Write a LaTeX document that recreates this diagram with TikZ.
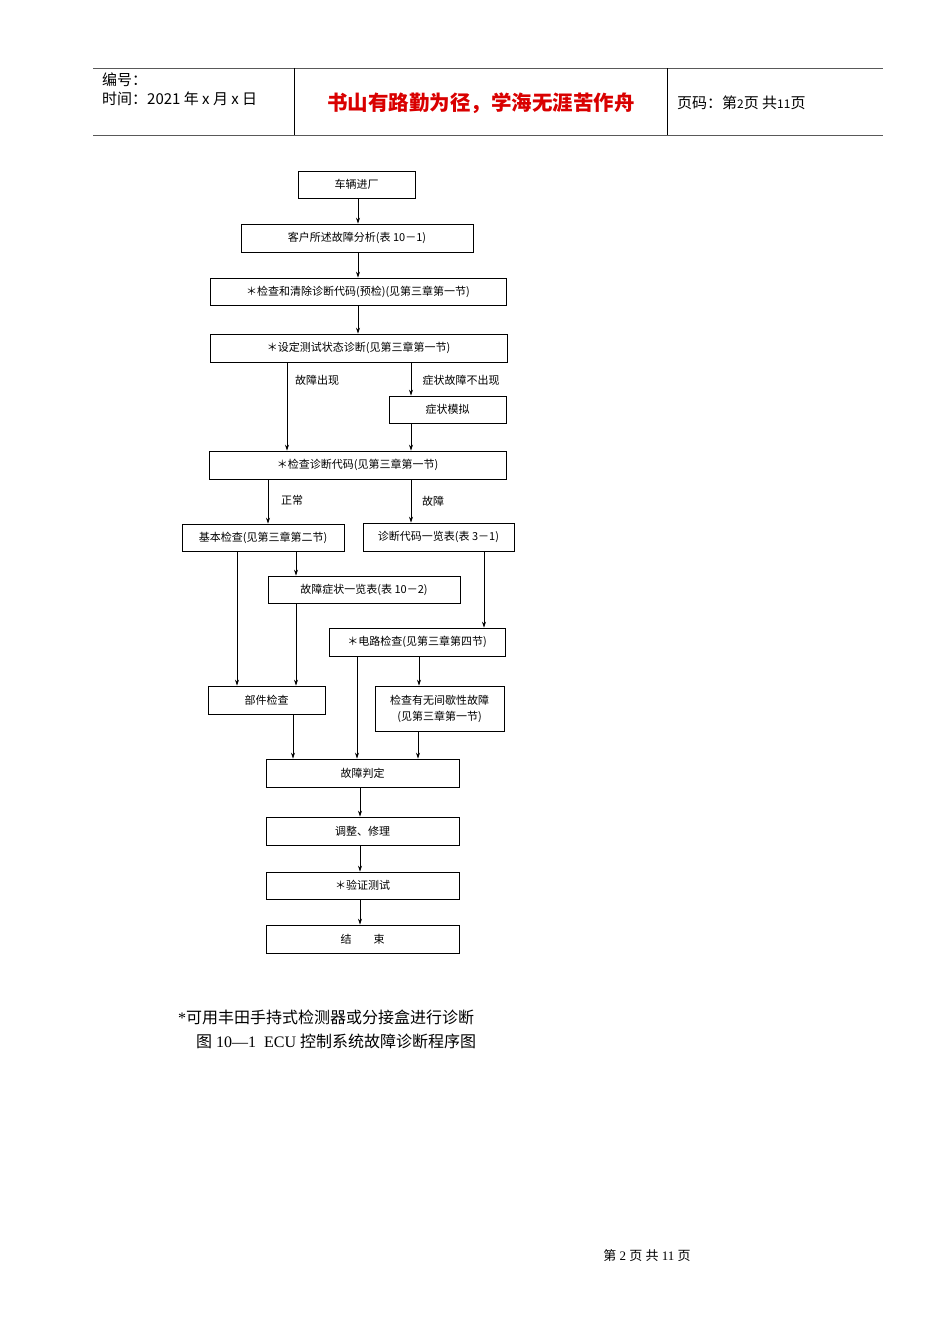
\documentclass[tikz,border=0pt]{standalone}
\usepackage{fontspec}
\setmainfont{Liberation Serif}
\newfontfamily\cjk{Noto Sans CJK SC}
\usetikzlibrary{arrows.meta}
\begin{document}
\begin{tikzpicture}[x=1pt,y=-1pt,
  box/.style={draw,line width=0.8pt,inner sep=0pt,font=\cjk\fontsize{11}{16}\selectfont,align=center},
  arr/.style={-{Stealth[length=6pt,width=4pt]},line width=0.7pt},
  lbl/.style={font=\cjk\fontsize{11}{13}\selectfont}]
\useasboundingbox (0,0) rectangle (950,1344);
% header
\draw[line width=0.8pt,gray!70!black] (93,68) -- (883,68) (93,135) -- (883,135);
\draw[line width=0.8pt] (294,68) -- (294,135) (667,68) -- (667,135);
\node[anchor=west,inner sep=0pt,font=\cjk\fontsize{15}{17}\selectfont] (h1) at (102,80) {编号：};
\node[anchor=west,inner sep=0pt,font=\cjk\fontsize{15}{17}\selectfont] (h2) at (102,99) {时间：2021 年 x 月 x 日};
\node[font=\cjk\bfseries\fontsize{20.5}{23}\selectfont,text=red!85!black] (h3) at (481,103) {书山有路勤为径，学海无涯苦作舟};
\node[anchor=west,inner sep=0pt,font=\cjk\fontsize{15}{17}\selectfont] (h4) at (677,103) {页码：第{\fontsize{12}{14}\selectfont 2}页\ 共{\fontsize{12}{14}\selectfont 11}页};
% boxes
\node[box,minimum width=117,minimum height=27] (b1) at (356.5,184.5) {车辆进厂};
\node[box,minimum width=232,minimum height=28] (b2) at (357,238) {客户所述故障分析(表 10－1)};
\node[box,minimum width=296,minimum height=27] (b3) at (358,291.5) {＊检查和清除诊断代码(预检)(见第三章第一节)};
\node[box,minimum width=297,minimum height=28] (b4) at (358.5,348) {＊设定测试状态诊断(见第三章第一节)};
\node[box,minimum width=117,minimum height=27] (b5) at (447.5,409.5) {症状模拟};
\node[box,minimum width=297,minimum height=28] (b6) at (357.5,465) {＊检查诊断代码(见第三章第一节)};
\node[box,minimum width=162,minimum height=27] (b7) at (263,537.5) {基本检查(见第三章第二节)};
\node[box,minimum width=151,minimum height=28] (b8) at (438.5,537) {诊断代码一览表(表 3－1)};
\node[box,minimum width=192,minimum height=27] (b9) at (364,589.5) {故障症状一览表(表 10－2)};
\node[box,minimum width=176,minimum height=28] (b10) at (417,642) {＊电路检查(见第三章第四节)};
\node[box,minimum width=117,minimum height=28] (b11) at (266.5,700) {部件检查};
\node[box,minimum width=129,minimum height=45] (b12) at (439.5,708.5) {检查有无间歇性故障\\(见第三章第一节)};
\node[box,minimum width=193,minimum height=28] (b13) at (362.5,773) {故障判定};
\node[box,minimum width=193,minimum height=28] (b14) at (362.5,831) {调整、修理};
\node[box,minimum width=193,minimum height=27] (b15) at (362.5,885.5) {＊验证测试};
\node[box,minimum width=193,minimum height=28] (b16) at (362.5,939) {结\qquad 束};
% labels
\node[lbl] (l1) at (317,380) {故障出现};
\node[lbl] (l2) at (461,380) {症状故障不出现};
\node[lbl] (l3) at (292,500) {正常};
\node[lbl] (l4) at (433,501) {故障};
% arrows
\draw[arr] (b1.south -| 358,0) -- (b2.north -| 358,0);
\draw[arr] (b2.south -| 358,0) -- (b3.north -| 358,0);
\draw[arr] (b3.south -| 358,0) -- (b4.north -| 358,0);
\draw[arr] (b4.south -| 287,0) -- (b6.north -| 287,0);
\draw[arr] (b4.south -| 411,0) -- (b5.north -| 411,0);
\draw[arr] (b5.south -| 411,0) -- (b6.north -| 411,0);
\draw[arr] (b6.south -| 268,0) -- (b7.north -| 268,0);
\draw[arr] (b6.south -| 411,0) -- (b8.north -| 411,0);
\draw[arr] (b7.south -| 237,0) -- (b11.north -| 237,0);
\draw[arr] (b7.south -| 296,0) -- (b9.north -| 296,0);
\draw[arr] (b8.south -| 484,0) -- (b10.north -| 484,0);
\draw[arr] (b9.south -| 296,0) -- (b11.north -| 296,0);
\draw[arr] (b10.south -| 357,0) -- (b13.north -| 357,0);
\draw[arr] (b10.south -| 419,0) -- (b12.north -| 419,0);
\draw[arr] (b11.south -| 293,0) -- (b13.north -| 293,0);
\draw[arr] (b12.south -| 418,0) -- (b13.north -| 418,0);
\draw[arr] (b13.south -| 360,0) -- (b14.north -| 360,0);
\draw[arr] (b14.south -| 360,0) -- (b15.north -| 360,0);
\draw[arr] (b15.south -| 360,0) -- (b16.north -| 360,0);
% captions
\node[anchor=west,inner sep=0pt,font=\fontsize{16}{18}\selectfont] (c1) at (178,1017) {*{\cjk 可用丰田手持式检测器或分接盒进行诊断}};
\node[anchor=west,inner sep=0pt,font=\fontsize{16}{18}\selectfont] (c2) at (196,1041) {{\cjk 图} 10—1\ \ ECU {\cjk 控制系统故障诊断程序图}};
\node[font=\fontsize{13}{15}\selectfont] (pg) at (647,1256) {{\cjk 第} 2 {\cjk 页} {\cjk 共} 11 {\cjk 页}};
\end{tikzpicture}
\end{document}
